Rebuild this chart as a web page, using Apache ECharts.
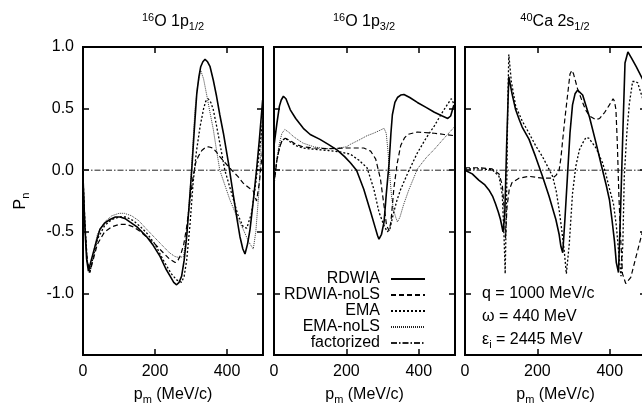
<!DOCTYPE html>
<html>
<head>
<meta charset="utf-8">
<script src="https://cdn.jsdelivr.net/npm/echarts@6/dist/echarts.min.js"></script>
<style>
  html, body { margin: 0; padding: 0; background: #fff; }
  #chart { width: 642px; height: 404px; }
</style>
</head>
<body>
<div id="chart"></div>
<script>
// Induced polarization P_n versus missing momentum p_m, three knockout cases.
const seriesNames = ['RDWIA', 'RDWIA-noLS', 'EMA', 'EMA-noLS', 'factorized'];
const xTicks = [0, 200, 400];
const yTicks = [-1.0, -0.5, 0.0, 0.5, 1.0];

// ---- 16O 1p1/2 ----
const o16p12_RDWIA = [[0,-0.05],[5,-0.45],[10,-0.72],[15,-0.82],[22,-0.74],[35,-0.6],[47,-0.48],[60,-0.43],[75,-0.40],[90,-0.38],[103,-0.38],[118,-0.395],[130,-0.42],[150,-0.46],[177,-0.54],[195,-0.61],[214,-0.70],[230,-0.80],[242,-0.86],[252,-0.91],[260,-0.93],[267,-0.91],[274,-0.86],[281,-0.73],[288,-0.54],[295,-0.28],[302,0.0],[309,0.32],[316,0.62],[322,0.76],[327,0.84],[333,0.88],[339,0.90],[346,0.88],[353,0.84],[362,0.73],[371,0.60],[380,0.45],[390,0.30],[404,0.06],[418,-0.21],[428,-0.40],[436,-0.54],[444,-0.64],[450,-0.68],[457,-0.60],[464,-0.48],[473,-0.25],[482,0.0],[490,0.25],[499,0.57]];
const o16p12_RDWIAnoLS = [[0,-0.1],[5,-0.45],[12,-0.74],[19,-0.83],[27,-0.74],[40,-0.6],[60,-0.5],[80,-0.46],[100,-0.44],[121,-0.44],[140,-0.46],[160,-0.5],[180,-0.55],[200,-0.6],[223,-0.67],[240,-0.72],[256,-0.75],[264,-0.73],[271,-0.69],[280,-0.6],[288,-0.46],[297,-0.25],[306,-0.05],[313,0.06],[320,0.11],[330,0.16],[340,0.185],[348,0.19],[360,0.18],[370,0.15],[380,0.11],[395,0.06],[413,0.0],[430,-0.05],[445,-0.105],[460,-0.14],[473,-0.17],[482,-0.25],[490,-0.1],[500,0.2]];
const o16p12_EMA = [[0,-0.05],[5,-0.4],[12,-0.75],[19,-0.83],[27,-0.72],[40,-0.56],[60,-0.45],[80,-0.40],[100,-0.38],[120,-0.38],[140,-0.41],[160,-0.46],[177,-0.51],[200,-0.60],[223,-0.73],[245,-0.84],[260,-0.89],[274,-0.91],[281,-0.86],[288,-0.73],[297,-0.45],[306,-0.1],[315,0.15],[325,0.35],[335,0.50],[341,0.56],[348,0.58],[355,0.55],[362,0.49],[371,0.36],[380,0.22],[394,0.0],[406,-0.12],[418,-0.24],[430,-0.36],[445,-0.46],[455,-0.47],[468,-0.35],[480,-0.1],[490,0.15],[499,0.4]];
const o16p12_EMAnoLS = [[0,-0.05],[5,-0.4],[10,-0.7],[17,-0.83],[25,-0.72],[40,-0.52],[60,-0.42],[80,-0.37],[100,-0.35],[115,-0.35],[135,-0.37],[155,-0.41],[177,-0.48],[200,-0.55],[220,-0.61],[240,-0.67],[255,-0.70],[268,-0.71],[279,-0.70],[287,-0.55],[297,-0.19],[304,0.15],[311,0.49],[318,0.68],[327,0.81],[335,0.74],[343,0.62],[352,0.48],[362,0.33],[371,0.16],[380,0.0],[394,-0.12],[408,-0.24],[425,-0.36],[445,-0.48],[460,-0.58],[473,-0.64],[480,-0.50],[488,-0.2],[499,0.45]];
const o16p12_fact = [[0,0],[500,0]];

// ---- 16O 1p3/2 ----
const o16p32_RDWIA = [[0,0.2],[8,0.38],[15,0.52],[20,0.57],[26,0.60],[33,0.58],[45,0.49],[60,0.42],[81,0.34],[100,0.29],[127,0.25],[150,0.21],[174,0.165],[195,0.11],[211,0.06],[228,0.0],[248,-0.155],[267,-0.34],[280,-0.47],[286,-0.53],[290,-0.56],[297,-0.52],[304,-0.42],[310,-0.2],[318,0.06],[323,0.30],[327,0.45],[334,0.55],[341,0.59],[350,0.61],[359,0.615],[375,0.59],[396,0.55],[420,0.51],[443,0.47],[465,0.44],[480,0.42],[488,0.44],[494,0.50],[497,0.53]];
const o16p32_RDWIAnoLS = [[0,-0.12],[8,0.08],[15,0.18],[22,0.24],[31,0.26],[45,0.24],[60,0.21],[80,0.19],[110,0.18],[150,0.175],[200,0.18],[248,0.18],[267,0.155],[281,0.09],[294,-0.07],[304,-0.29],[311,-0.45],[318,-0.49],[323,-0.42],[331,-0.15],[340,0.05],[350,0.2],[360,0.26],[369,0.29],[396,0.31],[443,0.30],[470,0.29],[500,0.28]];
const o16p32_EMA = [[0,-0.1],[8,0.08],[15,0.18],[22,0.24],[31,0.26],[45,0.23],[60,0.2],[80,0.18],[110,0.17],[150,0.16],[180,0.15],[211,0.13],[235,0.08],[257,0.02],[276,-0.155],[290,-0.34],[304,-0.45],[313,-0.5],[320,-0.48],[330,-0.35],[340,-0.24],[350,-0.155],[370,-0.02],[396,0.14],[420,0.26],[443,0.36],[465,0.47],[485,0.56],[490,0.58],[495,0.55],[500,0.5]];
const o16p32_EMAnoLS = [[0,-0.1],[8,0.1],[15,0.22],[22,0.3],[30,0.33],[40,0.31],[55,0.27],[80,0.22],[110,0.19],[140,0.175],[170,0.175],[200,0.19],[211,0.21],[235,0.245],[257,0.28],[275,0.30],[290,0.32],[304,0.34],[310,0.3],[315,0.15],[320,-0.05],[325,-0.22],[330,-0.32],[336,-0.38],[341,-0.42],[348,-0.38],[358,-0.28],[373,-0.155],[385,-0.07],[396,0.01],[420,0.1],[443,0.17],[470,0.26],[498,0.35]];
const o16p32_fact = [[0,0],[500,0]];

// ---- 40Ca 2s1/2 ----
const ca40s12_RDWIA = [[0,0.0],[20,-0.03],[38,-0.08],[55,-0.12],[66,-0.16],[76,-0.21],[84,-0.27],[92,-0.34],[98,-0.40],[105,-0.50],[110,-0.35],[115,0.2],[121,0.76],[130,0.62],[140,0.49],[150,0.41],[158,0.35],[177,0.25],[195,0.11],[214,-0.05],[232,-0.21],[251,-0.40],[260,-0.52],[265,-0.62],[270,-0.67],[276,-0.4],[283,-0.05],[290,0.3],[297,0.53],[304,0.62],[311,0.65],[325,0.61],[344,0.43],[362,0.22],[380,0.0],[390,-0.12],[399,-0.24],[406,-0.40],[413,-0.58],[418,-0.75],[424,-0.83],[430,-0.3],[437,0.4],[442,0.87],[450,0.96],[460,0.91],[473,0.84],[492,0.73],[500,0.68]];
const ca40s12_RDWIAnoLS = [[0,0.02],[40,0.02],[75,0.01],[94,-0.03],[103,-0.12],[108,-0.3],[112,-0.55],[116,-0.3],[122,-0.16],[130,-0.1],[149,-0.065],[177,-0.05],[214,-0.065],[242,-0.065],[252,-0.04],[260,0.0],[265,0.1],[269,0.22],[276,0.42],[283,0.6],[290,0.78],[295,0.81],[300,0.78],[311,0.66],[325,0.55],[333,0.49],[344,0.44],[361,0.41],[372,0.42],[386,0.47],[399,0.53],[409,0.58],[413,0.56],[417,0.49],[421,0.2],[425,-0.2],[430,-0.55],[435,-0.84],[444,-0.92],[458,-0.87],[477,-0.65],[492,-0.48],[500,-0.42]];
const ca40s12_EMA = [[0,0.01],[40,0.01],[75,0.005],[94,-0.05],[103,-0.2],[108,-0.55],[111,-0.84],[115,-0.2],[118,0.5],[121,0.94],[128,0.72],[140,0.52],[158,0.4],[177,0.30],[195,0.2],[214,0.11],[230,0.02],[242,-0.05],[252,-0.17],[260,-0.32],[267,-0.48],[274,-0.65],[280,-0.84],[283,-0.85],[288,-0.6],[297,-0.19],[306,0.03],[316,0.165],[325,0.22],[334,0.265],[342,0.26],[362,0.18],[380,0.06],[389,-0.03],[399,-0.15],[410,-0.27],[418,-0.45],[424,-0.65],[431,-0.86],[436,-0.6],[440,-0.05],[447,0.3],[454,0.54],[463,0.72],[470,0.72],[477,0.71],[492,0.57],[500,0.5]];
const ca40s12_fact = [[0,0],[500,0]];

const panelTitles = [
  '{sup|16}{t|O 1p}{sub|1/2}',
  '{sup|16}{t|O 1p}{sub|3/2}',
  '{sup|40}{t|Ca 2s}{sub|1/2}'
];
const kinematics = [
  '{t|q = 1000 MeV/c}',
  '{t|\u03c9 = 440 MeV}',
  '{t|\u03b5}{sub|i}{t| = 2445 MeV}'
];

const FONT = 'Liberation Sans';
const INK = '#000';

const lineStyles = {
  'RDWIA':      { color: INK, width: 1.6, type: 'solid' },
  'RDWIA-noLS': { color: INK, width: 1.2, type: [5, 3] },
  'EMA':        { color: INK, width: 1.3, type: [2, 2] },
  'EMA-noLS':   { color: '#222', width: 0.9, type: [1, 1] },
  'factorized': { color: '#222', width: 1.0, type: [6, 2, 1.5, 2] }
};

const richText = {
  t:   { fontFamily: FONT, fontSize: 16, color: INK },
  sup: { fontFamily: FONT, fontSize: 11, color: INK, padding: [0, 0, 9, 0] },
  sub: { fontFamily: FONT, fontSize: 11, color: INK, padding: [9, 0, 0, 0] }
};

const panels = [
  { left: 83,  width: 180, data: [o16p12_fact, o16p12_EMAnoLS, o16p12_EMA, o16p12_RDWIAnoLS, o16p12_RDWIA],
    names: ['factorized', 'EMA-noLS', 'EMA', 'RDWIA-noLS', 'RDWIA'] },
  { left: 274, width: 181, data: [o16p32_fact, o16p32_EMAnoLS, o16p32_EMA, o16p32_RDWIAnoLS, o16p32_RDWIA],
    names: ['factorized', 'EMA-noLS', 'EMA', 'RDWIA-noLS', 'RDWIA'] },
  { left: 465, width: 181, data: [ca40s12_fact, ca40s12_EMA, ca40s12_RDWIAnoLS, ca40s12_RDWIA],
    names: ['factorized', 'EMA', 'RDWIA-noLS', 'RDWIA'] }
];
const TOP = 47, HEIGHT = 308;

const grid = [], xAxis = [], yAxis = [], series = [];
const tickStyle = { show: true, inside: true, length: 6, lineStyle: { color: INK, width: 1.5 } };
const hiddenLine = { show: false, onZero: false };

panels.forEach((p) => {
  grid.push({ left: p.left, top: TOP, width: p.width, height: HEIGHT,
              outerBoundsMode: 'none', containLabel: false,
              show: true, borderColor: INK, borderWidth: 2, backgroundColor: '#fff' });
});
// bottom and top x axes
panels.forEach((p, i) => {
  xAxis.push({
    type: 'value', gridIndex: i, min: 0, max: 500, interval: 200, position: 'bottom',
    axisLine: hiddenLine, splitLine: { show: false }, axisTick: tickStyle,
    axisLabel: { show: true, fontFamily: FONT, fontSize: 16, color: INK, margin: 9,
                 formatter: v => xTicks.includes(v) ? String(v) : '' },
    name: '{t|p}{sub|m}{t| (MeV/c)}', nameLocation: 'middle', nameGap: 30,
    nameTextStyle: { rich: richText }
  });
});
panels.forEach((p, i) => {
  xAxis.push({
    type: 'value', gridIndex: i, min: 0, max: 500, interval: 200, position: 'top',
    axisLine: hiddenLine, splitLine: { show: false }, axisTick: tickStyle,
    axisLabel: { show: false }
  });
});
// left and right y axes
panels.forEach((p, i) => {
  yAxis.push({
    type: 'value', gridIndex: i, min: -1.5, max: 1.0, interval: 0.5, position: 'left',
    axisLine: hiddenLine, splitLine: { show: false }, axisTick: tickStyle,
    axisLabel: { show: i === 0, fontFamily: FONT, fontSize: 16, color: INK, margin: 9,
                 formatter: v => yTicks.some(t => Math.abs(t - v) < 1e-9) ? v.toFixed(1) : '' },
    name: i === 0 ? '{t|P}{sub|n}' : '', nameLocation: 'middle', nameGap: 52, nameRotate: 90,
    nameTextStyle: { rich: richText }
  });
});
panels.forEach((p, i) => {
  yAxis.push({
    type: 'value', gridIndex: i, min: -1.5, max: 1.0, interval: 0.5, position: 'right',
    axisLine: hiddenLine, splitLine: { show: false }, axisTick: tickStyle,
    axisLabel: { show: false }
  });
});

panels.forEach((p, i) => {
  p.data.forEach((d, k) => {
    const nm = p.names[k];
    series.push({
      type: 'line', name: nm, data: d, xAxisIndex: i, yAxisIndex: i,
      symbol: 'none', showSymbol: false, silent: true, clip: true,
      color: INK, lineStyle: lineStyles[nm]
    });
  });
});

const graphic = [];
panels.forEach((p, i) => {
  graphic.push({
    type: 'text', x: p.left + 90, y: 22,
    style: { text: panelTitles[i], rich: richText, align: 'center', verticalAlign: 'middle' }
  });
});
kinematics.forEach((txt, k) => {
  graphic.push({
    type: 'text', x: 482, y: 294 + k * 23,
    style: { text: txt, rich: richText, align: 'left', verticalAlign: 'middle' }
  });
});

const chart = echarts.init(document.getElementById('chart'), null, { renderer: 'canvas' });
chart.setOption({
  animation: false,
  backgroundColor: '#fff',
  grid, xAxis, yAxis, series, graphic,
  legend: {
    data: seriesNames, orient: 'vertical', align: 'right',
    right: 211, top: 266, itemWidth: 34, itemHeight: 10, itemGap: 0,
    selectedMode: false,
    itemStyle: { opacity: 0 },
    textStyle: { fontFamily: FONT, fontSize: 16, lineHeight: 16, color: INK, padding: [0, 6, 0, 0] }
  }
});
</script>
</body>
</html>
